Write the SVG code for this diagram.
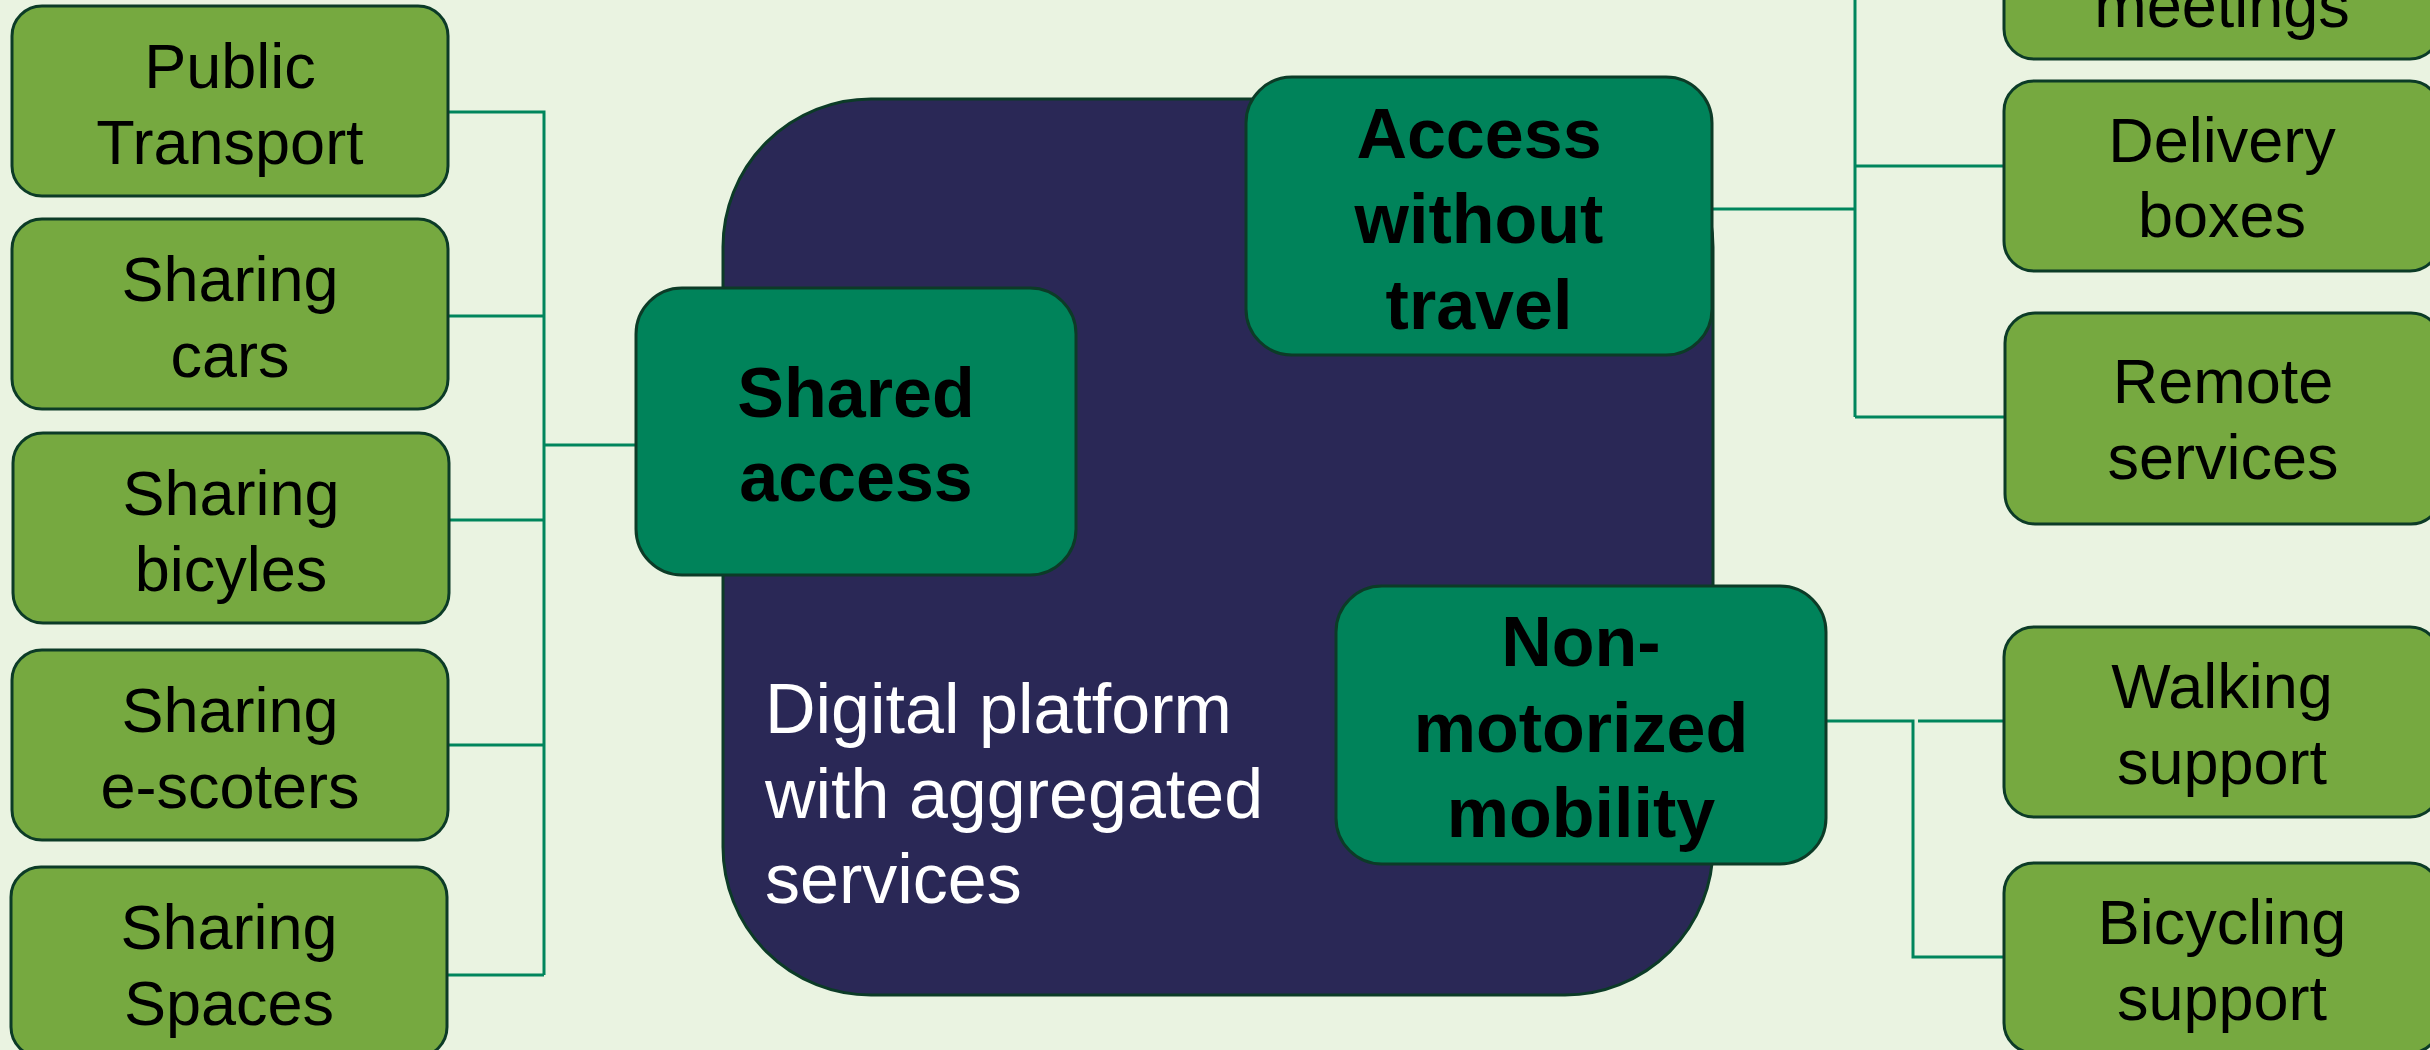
<svg xmlns="http://www.w3.org/2000/svg" width="2430" height="1050" viewBox="0 0 2430 1050">
<style>
.leaf{fill:#76a940;stroke:#0c3b27;stroke-width:3}
.hub{fill:#00835a;stroke:#0c3b27;stroke-width:3}
.lt{font-family:"Liberation Sans",Arial,sans-serif;font-size:63px;fill:#000;text-anchor:middle}
.bt{font-family:"Liberation Sans",Arial,sans-serif;font-size:70px;font-weight:bold;fill:#000;text-anchor:middle}
.wt{font-family:"Liberation Sans",Arial,sans-serif;font-size:70px;fill:#fff}
.con{fill:none;stroke:#00855c;stroke-width:3}
</style>
<rect x="0" y="0" width="2430" height="1050" fill="#eaf3e1"/>
<g id="platform">
<rect x="723" y="99" width="990" height="896" rx="148" ry="148" fill="#2a2856" stroke="#0c3b27" stroke-width="3"/>
<text class="wt" x="765"><tspan x="765" y="733">Digital platform</tspan><tspan x="765" y="818">with aggregated</tspan><tspan x="765" y="903">services</tspan></text>
</g>
<g id="connectors">
<path class="con" d="M448 112 H544 V975 M448 316 H544 M448 520 H544 M448 745 H544 M448 975 H544 M544 445 H636"/>
<path class="con" d="M1712 209 H1855 M1855 0 V417 M1855 166 H2004 M1855 417 H2004"/>
<path class="con" d="M1826 721 H1913 V957 H2004 M1918 721 H2004"/>
</g>
<g id="shared-access"><rect class="hub" x="636" y="288" width="440" height="287" rx="46"/><text class="bt"><tspan x="856" y="417">Shared</tspan><tspan x="856" y="501">access</tspan></text></g>
<g id="access-without-travel"><rect class="hub" x="1246" y="77" width="466" height="278" rx="46"/><text class="bt"><tspan x="1479" y="158">Access</tspan><tspan x="1479" y="243">without</tspan><tspan x="1479" y="329">travel</tspan></text></g>
<g id="non-motorized-mobility"><rect class="hub" x="1336" y="586" width="490" height="278" rx="46"/><text class="bt"><tspan x="1581" y="666">Non-</tspan><tspan x="1581" y="752">motorized</tspan><tspan x="1581" y="837">mobility</tspan></text></g>
<g id="public-transport"><rect class="leaf" x="12" y="6" width="436" height="190" rx="30"/><text class="lt"><tspan x="230" y="88">Public</tspan><tspan x="230" y="164">Transport</tspan></text></g>
<g id="sharing-cars"><rect class="leaf" x="12" y="219" width="436" height="190" rx="30"/><text class="lt"><tspan x="230" y="301">Sharing</tspan><tspan x="230" y="377">cars</tspan></text></g>
<g id="sharing-bicyles"><rect class="leaf" x="13" y="433" width="436" height="190" rx="30"/><text class="lt"><tspan x="231" y="515">Sharing</tspan><tspan x="231" y="591">bicyles</tspan></text></g>
<g id="sharing-escoters"><rect class="leaf" x="12" y="650" width="436" height="190" rx="30"/><text class="lt"><tspan x="230" y="732">Sharing</tspan><tspan x="230" y="808">e-scoters</tspan></text></g>
<g id="sharing-spaces"><rect class="leaf" x="11" y="867" width="436" height="190" rx="30"/><text class="lt"><tspan x="229" y="949">Sharing</tspan><tspan x="229" y="1025">Spaces</tspan></text></g>
<g id="meetings"><rect class="leaf" x="2004" y="-131" width="436" height="190" rx="30"/><text class="lt" x="2222" y="27">meetings</text></g>
<g id="delivery-boxes"><rect class="leaf" x="2004" y="81" width="436" height="190" rx="30"/><text class="lt"><tspan x="2222" y="162">Delivery</tspan><tspan x="2222" y="237">boxes</tspan></text></g>
<g id="remote-services"><rect class="leaf" x="2005" y="313" width="436" height="211" rx="30"/><text class="lt"><tspan x="2223" y="403">Remote</tspan><tspan x="2223" y="479">services</tspan></text></g>
<g id="walking-support"><rect class="leaf" x="2004" y="627" width="436" height="190" rx="30"/><text class="lt"><tspan x="2222" y="708">Walking</tspan><tspan x="2222" y="784">support</tspan></text></g>
<g id="bicycling-support"><rect class="leaf" x="2004" y="863" width="436" height="190" rx="30"/><text class="lt"><tspan x="2222" y="944">Bicycling</tspan><tspan x="2222" y="1020">support</tspan></text></g>
</svg>
